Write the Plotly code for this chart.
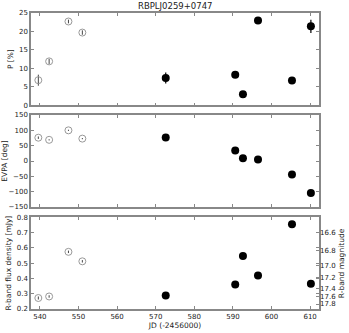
import plotly.graph_objects as go
import numpy as np

# Data
jd_open = [539.6, 542.4, 547.4, 551.0]
jd_fill = [572.6, 590.6, 592.6, 596.5, 605.3, 610.2]

p_open = [6.8, 11.9, 22.7, 19.7]
p_open_err = [1.5, 0.7, 0.5, 0.6]
p_fill = [7.4, 8.3, 3.0, 23.0, 6.7, 21.4]
p_fill_err = [1.5, 0.6, 0.6, 0.7, 0.6, 1.8]

evpa_open = [76, 69, 100, 73]
evpa_open_err = [4, 2, 2, 2]
evpa_fill = [77, 34, 9, 5, -44, -104]
evpa_fill_err = [3, 2, 3, 2, 3, 3]

flux_open = [0.272, 0.282, 0.574, 0.512]
flux_open_err = [0.010, 0.008, 0.008, 0.008]
flux_fill = [0.288, 0.360, 0.546, 0.420, 0.755, 0.366]
flux_fill_err = [0.008, 0.010, 0.010, 0.018, 0.010, 0.010]

mag_ticks = [16.6, 16.8, 17.0, 17.2, 17.4, 17.6, 17.8]
x_ticks = [540, 550, 560, 570, 580, 590, 600, 610]

F0_mJy = 3064e3
mag_tickvals = [F0_mJy * 10 ** (-m / 2.5) for m in mag_ticks]

GRAY = "#888888"
OPEN = "#999999"
FONT = "DejaVu Sans"
TXT = "#222222"

fig = go.Figure()

panels = [
    ("y", p_open, p_open_err, p_fill, p_fill_err),
    ("y2", evpa_open, evpa_open_err, evpa_fill, evpa_fill_err),
    ("y3", flux_open, flux_open_err, flux_fill, flux_fill_err),
]
for yax, yo, yoe, yf, yfe in panels:
    xax = {"y": "x", "y2": "x2", "y3": "x3"}[yax]
    fig.add_trace(go.Scatter(
        x=jd_open, y=yo, mode="markers", xaxis=xax, yaxis=yax,
        marker=dict(symbol="circle-open", size=7, color=OPEN, line=dict(width=1, color=OPEN)),
        error_y=dict(type="data", array=yoe, color="#444444", thickness=1, width=0),
        showlegend=False))
    fig.add_trace(go.Scatter(
        x=jd_fill, y=yf, mode="markers", xaxis=xax, yaxis=yax,
        marker=dict(symbol="circle", size=8, color="black"),
        error_y=dict(type="data", array=yfe, color="black", thickness=1.2, width=0),
        showlegend=False))

# invisible trace for right axis
fig.add_trace(go.Scatter(x=[jd_open[0]], y=[flux_open[0]], xaxis="x3", yaxis="y4",
                         mode="markers", marker=dict(opacity=0), showlegend=False, hoverinfo="skip"))

tickfont = dict(family=FONT, size=7, color=TXT)
tfont = dict(family=FONT, size=7.5, color=TXT)

xr = [537.7, 612.3]
axis_common = dict(showline=True, linecolor=GRAY, linewidth=1.5, mirror="ticks",
                   ticks="inside", ticklen=3, tickcolor=GRAY, showgrid=False, zeroline=False,
                   automargin=False, tickfont=tickfont)

H = 333.0
mt, mb = 13, 24
ph = H - mt - mb
def dom(top_px, bot_px):
    return [max(0.0, (H - mb - bot_px) / ph), min(1.0, (H - mb - top_px) / ph)]

d3 = dom(217.3, 309)

fig.update_layout(
    width=349, height=333,
    margin=dict(l=31, r=30, t=mt, b=mb),
    paper_bgcolor="white", plot_bgcolor="white",
    xaxis=dict(axis_common, range=xr, tickvals=x_ticks, showticklabels=False, anchor="y"),
    xaxis2=dict(axis_common, range=xr, tickvals=x_ticks, showticklabels=False, anchor="y2"),
    xaxis3=dict(axis_common, range=xr, tickvals=x_ticks, anchor="y3",
                title=dict(text="JD (-2456000)", font=tfont, standoff=2)),
    yaxis=dict(axis_common, domain=dom(12.7, 105.3), range=[0, 25], tickvals=[0, 5, 10, 15, 20, 25],
               title=dict(text="P [%]", font=tfont, standoff=4)),
    yaxis2=dict(axis_common, domain=dom(115, 207), range=[-150, 150],
                tickvals=[-150, -100, -50, 0, 50, 100, 150],
                ticktext=["−150", "−100", "−50", "0", "50", "100", "150"],
                title=dict(text="EVPA [deg]", font=tfont, standoff=4)),
    yaxis3=dict(axis_common, domain=d3, range=[0.2, 0.8],
                tickvals=[0.2, 0.3, 0.4, 0.5, 0.6, 0.7, 0.8],
                title=dict(text="R-band flux density [mJy]", font=tfont, standoff=4)),
    yaxis4=dict(showline=False, showgrid=False, zeroline=False, overlaying="y3", side="right",
                anchor="x3", range=[0.2, 0.8], tickvals=mag_tickvals, automargin=False,
                ticktext=[f"{m:.1f}" for m in mag_ticks], ticks="inside", ticklen=3, tickcolor=GRAY,
                tickfont=tickfont),
    annotations=[
        dict(text="RBPLJ0259+0747", x=0.5, y=1, xref="paper", yref="paper",
             xanchor="center", yanchor="bottom", yshift=0, showarrow=False,
             font=dict(family=FONT, size=8.5, color=TXT)),
        dict(text="R-band magnitude", x=1, y=(d3[0] + d3[1]) / 2, xref="paper", yref="paper",
             xanchor="center", yanchor="middle", xshift=22, textangle=-90, showarrow=False,
             font=tfont),
    ],
)

fig.write_html("out.html", config={"displayModeBar": False},
               post_script="document.body.style.margin='0';document.body.style.overflow='hidden';")
